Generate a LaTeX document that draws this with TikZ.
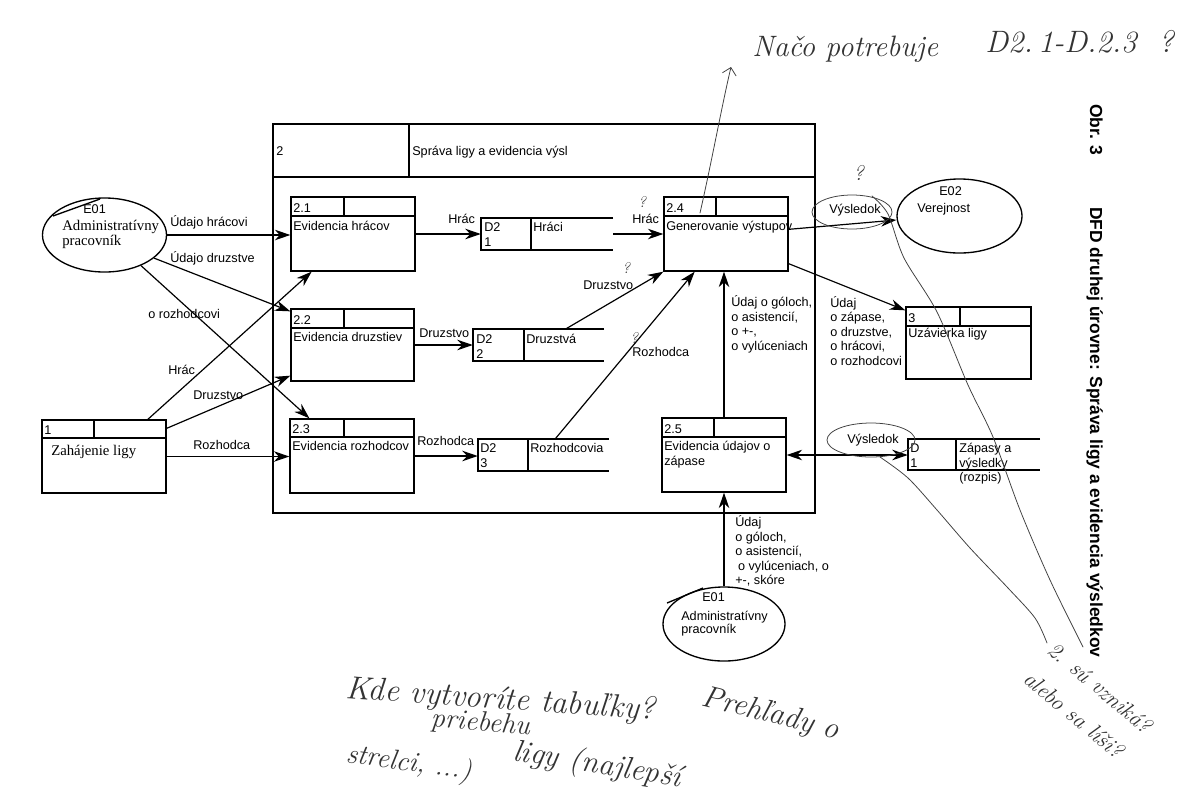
\documentclass[tikz,border=0pt]{standalone}
\usepackage{fontspec}
\newfontfamily\arial{Liberation Sans}
\newfontfamily\timesf{Liberation Serif}
\usetikzlibrary{arrows.meta,shapes.geometric,fit,calc}

\tikzset{
  lbl/.style={font=\arial\fontsize{9}{10.3}\selectfont, inner sep=0, align=left},
  sertxt/.style={font=\timesf\fontsize{10.5}{12}\selectfont, inner sep=0, anchor=base west},
  procbox/.style={draw, line width=0.95pt, inner sep=0},
  boxline/.style={line width=0.95pt},
  flow/.style={line width=0.85pt, -{Stealth[length=11pt,width=7.5pt,inset=3.5pt]}},
  biflow/.style={line width=0.85pt, {Stealth[length=11pt,width=7.5pt,inset=3.5pt]}-{Stealth[length=11pt,width=7.5pt,inset=3.5pt]}},
  entity/.style={ellipse, draw, line width=0.95pt, inner sep=0, minimum width=3.1cm, minimum height=1.85cm},
  vtitle/.style={font=\arial\bfseries\fontsize{12.4}{14}\selectfont, inner sep=0, rotate=-90, anchor=base west},
  penline/.style={line width=0.55pt, draw=black!75, line cap=round},
  handtxt/.style={font=\rmfamily\itshape\fontsize{22}{22}\selectfont, text=black!80, inner sep=0, anchor=base west},
}

\newcommand\dfdproc[8]{%
  \node[procbox, fit={(#2,#3)(#4,#5)}] (#1) {};
  \draw[boxline] (#2,#6) -- (#4,#6) (#7,#3) -- (#7,#6);
  \node[lbl, anchor=base west] (#1-id) at ({#2+2},{#6-3.5}) {#8};
}
\newcommand\dfdstore[6]{%
  \node[inner sep=0, fit={(#2,#3)(#4,#5)}] (#1) {};
  \draw[boxline] (#4,#3) -- (#2,#3) -- (#2,#5) -- (#4,#5) (#6,#3) -- (#6,#5);
}

\begin{document}
\begin{tikzpicture}[x=0.025cm, y=-0.025cm]
\useasboundingbox (0,0) rectangle (1200,797);
\fill[white] (0,0) rectangle (1200,797);

% ---- big process 2
\node[procbox, fit={(273,124)(815,513)}] (p2) {};
\draw[boxline] (273,177) -- (815,177) (409,124) -- (409,177);
\node[lbl, anchor=base west] (p2id) at (276,155) {2};
\node[lbl, anchor=base west] (p2t) at (412,155) {Správa ligy a evidencia výsl};

% ---- processes
\dfdproc{p21}{291}{197}{415}{271}{216}{344}{2.1}
\node[lbl, anchor=base west] (p21t) at (293,230) {Evidencia hrácov};
\dfdproc{p22}{291}{309}{414}{381}{328}{344}{2.2}
\node[lbl, anchor=base west] (p22t) at (293,341) {Evidencia druzstiev};
\dfdproc{p23}{290}{419}{414}{493}{437}{344}{2.3}
\node[lbl, anchor=base west] (p23t) at (292,450) {Evidencia rozhodcov};
\dfdproc{p1}{42}{420}{166}{493}{438}{94}{1}
\node[sertxt] (p1t) at (51,455) {Zahájenie ligy};
\dfdproc{p24}{664}{197}{788}{271}{216}{716}{2.4}
\node[lbl, anchor=base west] (p24t) at (666,230) {Generovanie výstupov};
\dfdproc{p25}{662}{418}{786}{492}{437}{714}{2.5}
\node[lbl, anchor=north west] (p25t) at (664,441) {Evidencia údajov o\\zápase};
\dfdproc{p3}{906}{307}{1031}{379}{326}{960}{3}
\node[lbl, anchor=base west] (p3t) at (908,337) {Uzávierka ligy};

% ---- data stores
\dfdstore{s1}{481}{218}{613}{250}{531}
\node[lbl, anchor=base west] (s1a) at (484,231) {D2};
\node[lbl, anchor=base west] (s1b) at (484,246) {1};
\node[lbl, anchor=base west] (s1t) at (533,231) {Hráci};
\dfdstore{s2}{473}{329}{604}{361}{524}
\node[lbl, anchor=base west] (s2a) at (476,343) {D2};
\node[lbl, anchor=base west] (s2b) at (476,358) {2};
\node[lbl, anchor=base west] (s2t) at (526,343) {Druzstvá};
\dfdstore{s3}{478}{439}{609}{471}{528}
\node[lbl, anchor=base west] (s3a) at (480,452) {D2};
\node[lbl, anchor=base west] (s3b) at (480,467) {3};
\node[lbl, anchor=base west] (s3t) at (530,452) {Rozhodcovia};
\dfdstore{sd1}{908}{439}{1040}{470}{956}
\node[lbl, anchor=base west] (sd1a) at (910,452) {D};
\node[lbl, anchor=base west] (sd1b) at (910,467) {1};
\node[lbl, anchor=north west] (sd1t) at (959,443) {Zápasy a\\výsledky\\(rozpis)};

% ---- external entities
\node[entity] (e01a) at (104.5,235) {};
\draw[boxline] (53,216) -- (100,199);
\node[lbl, anchor=base west] (e01aid) at (83,213) {E01};
\node[sertxt] (e01at1) at (62,230) {Administratívny};
\node[sertxt] (e01at2) at (62,245) {pracovník};

\node[entity, minimum width=3.125cm] (e02) at (959.5,216) {};
\node[lbl, anchor=base west] (e02id) at (939,195) {E02};
\node[lbl, anchor=base west] (e02t) at (917,212) {Verejnost};

\node[entity, minimum width=3.05cm] (e01b) at (724,624) {};
\draw[boxline] (667,603) -- (703,588);
\node[lbl, anchor=base west] (e01bid) at (702,601) {E01};
\node[lbl, anchor=base west] (e01bt1) at (681,620) {Administratívny};
\node[lbl, anchor=base west] (e01bt2) at (681,633) {pracovník};

% ---- flows
\draw[flow] (e01a.east) -- (e01a.east -| p21.west);
\draw[flow] (e01a.-25) -- ($(p22.north west)+(0,3)$);
\draw[flow] (e01a.-40) -- ($(p23.north west)!0.16!(p23.north east)$);
\draw[flow] ($(p1.north west)!0.85!(p1.north east)$) -- ($(p21.south west)!0.17!(p21.south east)$);
\draw[flow] ($(p1.north east)+(0,9)$) -- ($(p22.south west)+(0,-6)$);
\draw[flow] (p1.east) -- (p1.east -| p23.west);
\draw[flow] (p21.east) -- (p21.east -| s1.west);
\draw[flow] (s1.east) -- (s1.east -| p24.west);
\draw[flow] (p22.east) -- (p22.east -| s2.west);
\draw[flow] ($(s2.north west)!0.71!(s2.north east)$) -- (p24.south west);
\draw[flow] (p23.east) -- (p23.east -| s3.west);
\draw[flow] ($(s3.north west)!0.59!(s3.north east)$) -- ($(p24.south west)!0.25!(p24.south east)$);
\draw[flow] (p25.north) -- (p25.north |- p24.south);
\draw[flow] (e01b.north) -- (e01b.north |- p25.south);
\draw[flow] ($(p24.north east)+(0,33)$) -- ($(e02.west)+(0,4)$);
\draw[flow] ($(p24.south east)+(0,-8)$) -- ($(p3.north west)+(0,4)$);
\draw[biflow] (p25.east) -- (p25.east -| sd1.west);

% ---- flow labels
\node[lbl, anchor=base west] (l1) at (170,226) {Údajo hrácovi};
\node[lbl, anchor=base west] (l2) at (170,262) {Údajo druzstve};
\node[lbl, anchor=base west] (l3) at (148,318) {o rozhodcovi};
\node[lbl, anchor=base west] (l4) at (168,374) {Hrác};
\node[lbl, anchor=base west] (l5) at (193,399) {Druzstvo};
\node[lbl, anchor=base west] (l6) at (193,449) {Rozhodca};
\node[lbl, anchor=base west] (l7) at (448,223) {Hrác};
\node[lbl, anchor=base west] (l8) at (632,223) {Hrác};
\node[lbl, anchor=base west] (l9) at (419,337) {Druzstvo};
\node[lbl, anchor=base west] (l10) at (583,289) {Druzstvo};
\node[lbl, anchor=base west] (l11) at (632,356) {Rozhodca};
\node[lbl, anchor=base west] (l12) at (417,445) {Rozhodca};
\node[lbl, anchor=north west] (l13) at (731,295.5) {Údaj o góloch,\\o asistencií,\\o +-,\\o vylúceniach};
\node[lbl, anchor=base west] (l14) at (829,213) {Výsledok};
\node[lbl, anchor=north west] (l15) at (830,296) {Údaj\\o zápase,\\o druzstve,\\o hrácovi,\\o rozhodcovi};
\node[lbl, anchor=base west] (l16) at (847,443) {Výsledok};
\node[lbl, anchor=north west] (l17) at (735,515.5) {Údaj\\o góloch,\\o asistencií,\\\hspace*{2pt}o vylúceniach, o\\+-, skóre};

% ---- vertical caption
\node[vtitle] (obr) at (1090,104) {Obr. 3};
\node[vtitle] (ttl) at (1090,207) {DFD druhej úrovne: Správa ligy a evidencia výsledkov};

% ---- handwritten annotations
\coordinate (ha1) at (700,213);
\coordinate (ha2) at (731,67);
\draw[penline, -{Straight Barb[length=5pt]}] (ha1) .. controls (712,160) and (722,105) .. (ha2);
\node[handtxt, font=\rmfamily\itshape\fontsize{21}{21}\selectfont] (hn1) at (752,56) {Načo potrebuje};
\node[handtxt] (hn2) at (985,52) {D2.\,1-D.2.3\ \ ?};
\node[handtxt, font=\rmfamily\itshape\fontsize{11}{11}\selectfont] (hq1) at (638,207) {?};
\node[handtxt, font=\rmfamily\itshape\fontsize{11}{11}\selectfont] (hq2) at (622,273) {?};
\node[handtxt, font=\rmfamily\itshape\fontsize{11}{11}\selectfont] (hq3) at (630,343) {?};
\node[handtxt, font=\rmfamily\itshape\fontsize{15}{15}\selectfont] (hq4) at (853,180) {?};
\draw[penline] (852,212) ellipse [x radius=40, y radius=17];
\draw[penline] (871,440) ellipse [x radius=44, y radius=17];
\draw[penline] plot[smooth] coordinates {(872,196)(888,214)(904,258)(937,312)(968,385)(993,437)(1020,510)(1050,580)(1083,647)};
\draw[penline] plot[smooth] coordinates {(880,457)(908,478)(937,510)(970,548)(1008,588)(1035,618)(1047,643)};
\node[handtxt, font=\rmfamily\itshape\fontsize{16}{16}\selectfont, rotate=-40] (hr1) at (1046,652) {2. sú vzniká?};
\node[handtxt, font=\rmfamily\itshape\fontsize{16}{16}\selectfont, rotate=-40] (hr2) at (1022,681) {alebo sa líši?};
\node[handtxt, font=\rmfamily\itshape\fontsize{23}{23}\selectfont, rotate=-4] (hb1) at (345,698) {Kde vytvoríte tabuľky?};
\node[handtxt, rotate=-14] (hb2) at (700,705) {Prehľady o};
\node[handtxt, font=\rmfamily\itshape\fontsize{20}{20}\selectfont, rotate=-5] (hb3) at (430,726) {priebehu};
\node[handtxt, rotate=-9] (hb4) at (512,760) {ligy (najlepší};
\node[handtxt, font=\rmfamily\itshape\fontsize{20}{20}\selectfont, rotate=-8] (hb5) at (345,762) {strelci, ...)};
\end{tikzpicture}
\end{document}
